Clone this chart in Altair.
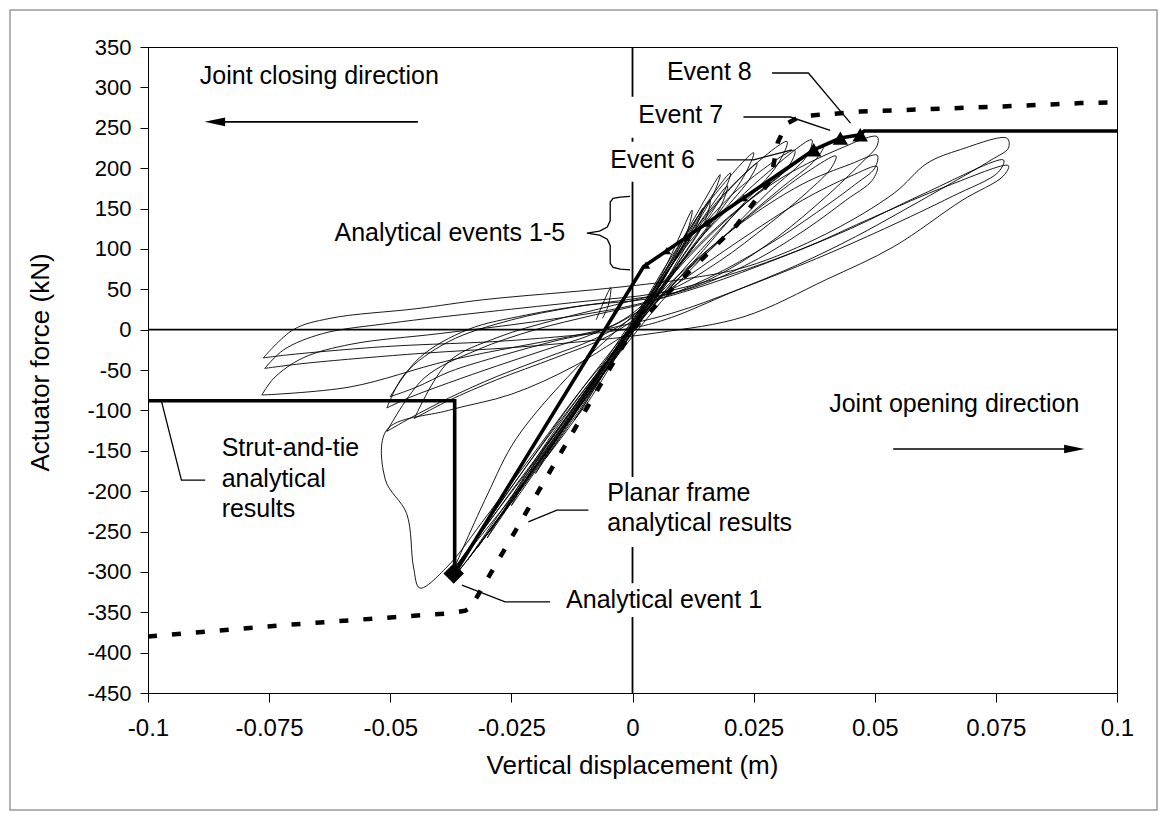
import altair as alt
import pandas as pd

# ---------------- axis ticks ----------------
X_TICKS = [-0.1, -0.075, -0.05, -0.025, 0, 0.025, 0.05, 0.075, 0.1]
Y_TICKS = list(range(-450, 351, 50))

# ---------------- measured hysteresis loops (thin lines) ----------------
S1 = [(-0.012, -112), (-0.008, -75), (-0.003, -25), (0.002, 25), (0.007, 80), (0.0123, 148), (0.0112, 120),
      (0.006, 62), (0.001, 8), (-0.004, -40), (-0.009, -88), (-0.012, -112)]
S2 = [(-0.020, -178), (-0.013, -115), (-0.006, -50), (0.0, 5), (0.006, 65), (0.012, 130), (0.0181, 192),
      (0.0165, 165), (0.010, 100), (0.003, 30), (-0.004, -30), (-0.012, -100), (-0.020, -178)]
S3 = [(-0.025, -218), (-0.016, -140), (-0.008, -65), (0.0, 8), (0.008, 85), (0.014, 145), (0.0202, 194),
      (0.019, 172), (0.013, 115), (0.005, 45), (-0.003, -22), (-0.012, -95), (-0.020, -165), (-0.025, -218)]
S4 = [(-0.030, -258), (-0.020, -170), (-0.010, -82), (0.0, 10), (0.008, 90), (0.016, 160), (0.025, 219),
      (0.023, 190), (0.016, 130), (0.008, 65), (0.0, 0), (-0.010, -75), (-0.020, -160), (-0.030, -258)]
S5 = [(-0.036, -292), (-0.025, -200), (-0.012, -95), (0.0, 12), (0.010, 100), (0.020, 175), (0.0319, 233),
      (0.030, 205), (0.022, 150), (0.012, 80), (0.0, 0), (-0.012, -90), (-0.025, -195), (-0.036, -292)]
S6 = [(-0.037, -298), (-0.030, -205), (-0.024, -135), (-0.012, -50), (-0.004, -5), (0.004, 40), (0.015, 120),
      (0.028, 195), (0.037, 235), (0.036, 215), (0.028, 170), (0.018, 110), (0.008, 55), (0.0, 5),
      (-0.010, -70), (-0.022, -170), (-0.037, -298)]
S7 = [(-0.027, -230), (-0.018, -150), (-0.009, -72), (0.0, 5), (0.009, 88), (0.018, 160), (0.0257, 206),
      (0.024, 185), (0.017, 135), (0.009, 75), (0.001, 10), (-0.009, -70), (-0.018, -145), (-0.027, -230)]
S8 = [(-0.034, -285), (-0.024, -198), (-0.012, -100), (-0.002, -15), (0.006, 60), (0.013, 125), (0.0196, 178),
      (0.018, 150), (0.011, 92), (0.003, 22), (-0.008, -72), (-0.020, -170), (-0.034, -285)]
S9 = [(-0.032, -270), (-0.022, -185), (-0.011, -92), (0.0, 0), (0.007, 68), (0.011, 112), (0.0145, 150),
      (0.013, 126), (0.008, 72), (0.002, 15), (-0.009, -78), (-0.021, -178), (-0.032, -270)]
S10 = [(-0.036, -300), (-0.026, -222), (-0.014, -120), (-0.004, -30), (0.004, 45), (0.012, 110),
       (0.022, 175), (0.0335, 222), (0.032, 200), (0.024, 160), (0.014, 98), (0.004, 28), (-0.008, -70),
       (-0.022, -190), (-0.036, -300)]
S11 = [(-0.018, -160), (-0.011, -100), (-0.004, -35), (0.003, 30), (0.009, 88), (0.0160, 160), (0.0150, 135),
       (0.009, 78), (0.002, 15), (-0.006, -55), (-0.012, -112), (-0.018, -160)]
S12 = [(-0.038, -305), (-0.028, -225), (-0.016, -130), (-0.006, -45), (0.003, 30), (0.014, 105),
       (0.026, 170), (0.036, 215), (0.0395, 228), (0.038, 212), (0.030, 172), (0.018, 110), (0.006, 35),
       (-0.006, -55), (-0.020, -170), (-0.038, -305)]
C1 = [(-0.0507, -97), (-0.046, -84), (-0.038, -66), (-0.028, -45), (-0.018, -25), (-0.008, -5), (0.0, 20),
      (0.008, 70), (0.018, 130), (0.030, 185), (0.042, 222), (0.0505, 239), (0.0505, 228), (0.047, 205),
      (0.040, 165), (0.030, 115), (0.020, 75), (0.010, 48), (0.0, 38), (-0.012, 28), (-0.025, 12),
      (-0.038, -15), (-0.047, -55), (-0.0507, -97)]
C2 = [(-0.0507, -126), (-0.046, -110), (-0.038, -85), (-0.028, -58), (-0.018, -35), (-0.008, -12), (0.0, 15),
      (0.010, 70), (0.022, 130), (0.035, 180), (0.045, 205), (0.0505, 216), (0.050, 200), (0.046, 180),
      (0.038, 145), (0.028, 105), (0.016, 65), (0.004, 35), (-0.008, 18), (-0.020, 0), (-0.032, -25),
      (-0.043, -60), (-0.0507, -126)]
C3 = [(-0.050, -83), (-0.0445, -71), (-0.0377, -52), (-0.027, -32), (-0.016, -14), (-0.006, 0), (0.0, 18),
      (0.010, 60), (0.022, 110), (0.035, 160), (0.045, 190), (0.0505, 202), (0.0495, 185), (0.044, 160),
      (0.036, 125), (0.026, 88), (0.014, 55), (0.003, 38), (-0.010, 30), (-0.022, 18), (-0.034, 0),
      (-0.044, -35), (-0.050, -83)]
C4 = [(-0.045, -110), (-0.038, -88), (-0.028, -62), (-0.016, -35), (-0.005, -8), (0.004, 30), (0.014, 90),
      (0.026, 150), (0.036, 195), (0.042, 215), (0.041, 200), (0.036, 170), (0.028, 130), (0.018, 85),
      (0.008, 50), (-0.004, 30), (-0.016, 12), (-0.028, -10), (-0.038, -40), (-0.045, -110)]
E1 = [(0.0, 0), (-0.012, -45), (-0.025, -80), (-0.038, -100), (-0.0507, -124), (-0.051, -186),
      (-0.0466, -228), (-0.0452, -294), (-0.0439, -320), (-0.0383, -294), (-0.030, -230), (-0.020, -150),
      (-0.010, -70), (0.0, 0)]
D1 = [(-0.0762, -35), (-0.070, 0), (-0.0624, 14), (-0.0445, 26), (-0.0308, 37), (-0.0053, 51), (0.010, 62),
      (0.0236, 78), (0.0401, 119), (0.054, 169), (0.0608, 206), (0.0677, 223), (0.0773, 237), (0.0776, 225),
      (0.074, 210), (0.066, 182), (0.056, 148), (0.046, 115), (0.034, 80), (0.020, 45), (0.008, 15),
      (0.0, 2), (-0.0239, -13), (-0.051, -21), (-0.0707, -31), (-0.0762, -35)]
D2 = [(-0.0759, -48), (-0.072, -25), (-0.064, -5), (-0.050, 8), (-0.030, 22), (-0.010, 35), (0.005, 45),
      (0.020, 68), (0.035, 100), (0.050, 140), (0.065, 178), (0.0776, 203), (0.0765, 190), (0.068, 160),
      (0.054, 103), (0.040, 62), (0.023, 16), (0.005, -4), (-0.020, -20), (-0.045, -30), (-0.068, -42),
      (-0.0759, -48)]
D3 = [(-0.0765, -81), (-0.074, -60), (-0.068, -35), (-0.058, -18), (-0.040, -5), (-0.020, 10), (0.0, 30),
      (0.015, 55), (0.030, 88), (0.045, 125), (0.060, 168), (0.0766, 210), (0.0755, 195), (0.066, 165),
      (0.052, 125), (0.038, 88), (0.022, 50), (0.008, 20), (-0.010, -5), (-0.0377, -38), (-0.0583, -71),
      (-0.0765, -81)]
SPIKE = [(-0.0075, 12), (-0.0045, 52), (-0.0050, 30), (-0.0062, 14)]

# ---------------- analytical results ----------------
STRUT_TIE = [(-0.1, -88), (-0.0367, -88), (-0.0367, -302), (0.0023, 78), (0.0374, 222.7), (0.0429, 237.2),
             (0.047, 241.3), (0.0478, 246), (0.1, 246)]
PLANAR = [(-0.1, -380), (-0.072, -366), (-0.0445, -354), (-0.0377, -351.5), (-0.0345, -348), (-0.0328, -342),
          (-0.0325, -335), (0.0, 0), (0.0092, 57), (0.0216, 130), (0.0285, 185), (0.0300, 232), (0.0318, 255),
          (0.0346, 264), (0.047, 270), (0.0608, 273), (0.0746, 276), (0.0925, 280.5), (0.1, 281.5)]
EVENTS_1_5 = [(0.0028, 80), (0.0071, 97.8), (0.0112, 114.7), (0.0154, 132), (0.0230, 163.4)]
EVENTS_6_8 = [(0.0374, 222.7), (0.0429, 237.2), (0.0470, 241.3)]
EVENT_DIAMOND = [(-0.0369, -302)]

# ---------------- annotations ----------------
TEXTS = [
    ("Joint closing direction", -0.0893, 314.5, "left"),
    ("Joint opening direction", 0.0406, -92, "left"),
    ("Event 8", 0.0071, 319.3, "left"),
    ("Event 7", 0.0012, 266.1, "left"),
    ("Event 6", -0.0046, 210.3, "left"),
    ("Analytical events 1-5", -0.0139, 119.9, "right"),
    ("Strut-and-tie", -0.0848, -147, "left"),
    ("analytical", -0.0848, -185.4, "left"),
    ("results", -0.0848, -221.7, "left"),
    ("Planar frame", -0.0052, -202.4, "left"),
    ("analytical results", -0.0052, -239.6, "left"),
    ("Analytical event 1", -0.0137, -335, "left"),
]
WHITE_BOXES = [(-0.0009, 0.020, 288.3, 237.5), (-0.005, 0.0145, 232.7, 183),
               (-0.006, 0.036, -182.6, -269.3), (-0.015, 0.025, -314, -356)]
LEAD_EVENT8 = [(0.0288, 317.8), (0.0363, 317.8), (0.0450, 255.8)]
LEAD_EVENT7 = [(0.0229, 263.3), (0.0326, 263.3), (0.0408, 246.7)]
LEAD_EVENT6 = [(0.0174, 210.3), (0.0250, 210.3), (0.0329, 222.7)]
LEAD_STRUT = [(-0.0972, -89.2), (-0.0931, -186.3), (-0.0882, -186.3)]
LEAD_PLANAR = [(-0.0215, -238), (-0.0156, -223.5), (-0.0091, -223.5)]
LEAD_EVENT1 = [(-0.0352, -316.4), (-0.0263, -337.1), (-0.0170, -337.1)]
BRACE = [(-0.0005, 165), (-0.0025, 164.2), (-0.0040, 162.5), (-0.0046, 158), (-0.0046, 135), (-0.0052, 127),
         (-0.0068, 122), (-0.0094, 119.5), (-0.0068, 117), (-0.0052, 112), (-0.0046, 104), (-0.0046, 82),
         (-0.0040, 77), (-0.0025, 74.8), (-0.0005, 74)]
ARROW_CLOSE = [(-0.0850, 257.3), (-0.0443, 257.3)]
ARROW_OPEN = [(0.0538, -147.8), (0.0900, -147.8)]
HEAD_LEFT = [(-0.0862, 257.3)]
HEAD_RIGHT = [(0.0912, -147.8)]

FONT = "Liberation Sans"


def frame(groups):
    rows = []
    for name, pts in groups.items():
        for i, (x, y) in enumerate(pts):
            rows.append({"x": x, "y": y, "g": name, "o": i})
    return pd.DataFrame(rows)


xs = alt.Scale(domain=[-0.1, 0.1], nice=False, zero=False)
ys = alt.Scale(domain=[-450, 350], nice=False, zero=False)
X_AX = alt.Axis(
    values=X_TICKS, labelExpr="toString(datum.value)", title="Vertical displacement (m)",
    labelFontSize=24, labelPadding=14, tickSize=9, titleFontSize=26, titleX=484, titleY=72,
    titleBaseline="middle", titleAlign="center", labelFlush=False)
Y_AX = alt.Axis(
    values=Y_TICKS, labelExpr="toString(datum.value)", title="Actuator force (kN)",
    labelFontSize=22, labelPadding=9, tickSize=8, titleFontSize=26, titleX=-108, titleY=315,
    titleAngle=-90, titleBaseline="middle", titleAlign="center", labelFlush=False)
Xn = alt.X("x:Q", scale=xs, axis=X_AX, title="Vertical displacement (m)")
Yn = alt.Y("y:Q", scale=ys, axis=Y_AX, title="Actuator force (kN)")

zero_h = alt.Chart(pd.DataFrame({"x": [-0.1], "x2": [0.1], "y": [0.0]})).mark_rule(
    color="black", strokeWidth=1.6).encode(x=Xn, x2="x2:Q", y=Yn)
zero_v = alt.Chart(pd.DataFrame({"x": [0.0], "y": [-450.0], "y2": [350.0]})).mark_rule(
    color="black", strokeWidth=1.8).encode(x=Xn, y=Yn, y2="y2:Q")

boxes = alt.Chart(pd.DataFrame(WHITE_BOXES, columns=["x", "x2", "y", "y2"])).mark_rect(
    color="white").encode(x=Xn, x2="x2:Q", y=Yn, y2="y2:Q")

loops = frame({"S1": S1, "S2": S2, "S3": S3, "S4": S4, "S5": S5, "S6": S6, "S7": S7, "S8": S8, "S9": S9,
               "S10": S10, "S11": S11, "S12": S12, "C1": C1, "C2": C2, "C3": C3, "C4": C4, "E1": E1,
               "D1": D1, "D2": D2, "D3": D3, "SPIKE": SPIKE})
thin = alt.Chart(loops).mark_line(color="black", strokeWidth=0.9, interpolate="catmull-rom").encode(
    x=Xn, y=Yn, detail="g:N", order="o:Q")

strut = alt.Chart(frame({"st": STRUT_TIE})).mark_line(color="black", strokeWidth=3.6).encode(
    x=Xn, y=Yn, order="o:Q")
planar = alt.Chart(frame({"pf": PLANAR})).mark_line(
    color="black", strokeWidth=4.5, strokeDash=[9, 15], strokeCap="butt").encode(x=Xn, y=Yn, order="o:Q")

ev15 = alt.Chart(pd.DataFrame(EVENTS_1_5, columns=["x", "y"])).mark_point(
    shape="triangle-up", filled=True, color="black", size=70, opacity=1).encode(x=Xn, y=Yn)
ev68 = alt.Chart(pd.DataFrame(EVENTS_6_8, columns=["x", "y"])).mark_point(
    shape="triangle-up", filled=True, color="black", size=240, opacity=1).encode(x=Xn, y=Yn)
diam = alt.Chart(pd.DataFrame(EVENT_DIAMOND, columns=["x", "y"])).mark_point(
    shape="diamond", filled=True, color="black", size=420, opacity=1).encode(x=Xn, y=Yn)

leaders = alt.Chart(frame({"l8": LEAD_EVENT8, "l7": LEAD_EVENT7, "l6": LEAD_EVENT6, "ls": LEAD_STRUT,
                           "lp": LEAD_PLANAR, "l1": LEAD_EVENT1, "br": BRACE})).mark_line(
    color="black", strokeWidth=1.3).encode(x=Xn, y=Yn, detail="g:N", order="o:Q")
arrows = alt.Chart(frame({"ac": ARROW_CLOSE, "ao": ARROW_OPEN})).mark_line(
    color="black", strokeWidth=1.6).encode(x=Xn, y=Yn, detail="g:N", order="o:Q")
head_l = alt.Chart(pd.DataFrame(HEAD_LEFT, columns=["x", "y"])).mark_point(
    shape="M -1 0 L 1 -0.42 L 1 0.42 Z", filled=True, color="black", size=420, opacity=1).encode(x=Xn, y=Yn)
head_r = alt.Chart(pd.DataFrame(HEAD_RIGHT, columns=["x", "y"])).mark_point(
    shape="M 1 0 L -1 -0.42 L -1 0.42 Z", filled=True, color="black", size=420, opacity=1).encode(x=Xn, y=Yn)

tdf = pd.DataFrame(TEXTS, columns=["t", "x", "y", "a"])
txt_left = alt.Chart(tdf[tdf.a == "left"]).mark_text(
    align="left", baseline="middle", font=FONT, fontSize=25, color="black").encode(x=Xn, y=Yn, text="t:N")
txt_right = alt.Chart(tdf[tdf.a == "right"]).mark_text(
    align="right", baseline="middle", font=FONT, fontSize=25, color="black").encode(x=Xn, y=Yn, text="t:N")

border = alt.Chart(pd.DataFrame({"k": [0]})).mark_rect(
    fill="white", fillOpacity=0, stroke="#9a9a9a", strokeWidth=1.5).encode(
    x=alt.value(-138), x2=alt.value(1009), y=alt.value(-37), y2=alt.value(763))

chart = alt.layer(
    zero_h, border, zero_v, boxes, thin, planar, strut, ev15, ev68, diam,
    leaders, arrows, head_l, head_r, txt_left, txt_right
).properties(
    width=969, height=646,
    padding={"left": 140, "top": 39, "right": 42, "bottom": 119},
    autosize=alt.AutoSizeParams(type="none"),
).configure_view(
    stroke="black", strokeWidth=1
).configure_axis(
    labelFont=FONT, titleFont=FONT, labelColor="black", titleColor="black", domainColor="black",
    tickColor="black", domainWidth=1, tickWidth=1, grid=False, titleFontWeight="normal"
)

chart.save("out.html", embed_options={"renderer": "svg", "actions": False})
